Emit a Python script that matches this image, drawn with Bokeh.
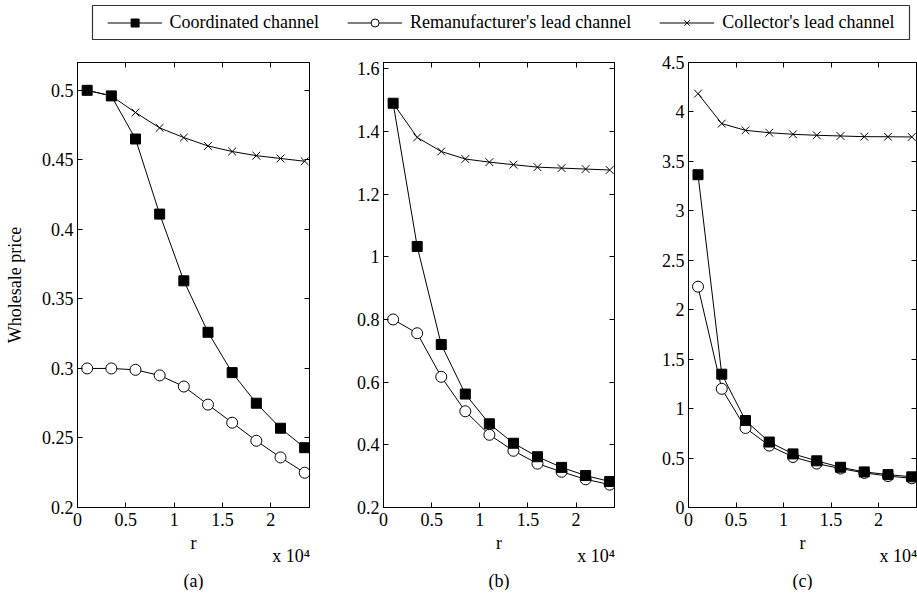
from bokeh.plotting import figure
from bokeh.models import (Range1d, FixedTicker, LinearAxis, CustomJSTickFormatter, NumeralTickFormatter,
                          Title, Legend, LegendItem, ColumnDataSource)
from bokeh.layouts import column, row
from bokeh.embed import file_html
from bokeh.resources import INLINE
from bokeh.themes import Theme

# ---------------- data ----------------
r_values = [0.1, 0.35, 0.6, 0.85, 1.1, 1.35, 1.6, 1.85, 2.1, 2.35]   # r in units of 10^4
x_ticks = [0, 0.5, 1, 1.5, 2]

a_coordinated = [0.500, 0.496, 0.465, 0.411, 0.363, 0.326, 0.297, 0.275, 0.257, 0.243]
a_reman = [0.300, 0.300, 0.299, 0.295, 0.287, 0.274, 0.261, 0.248, 0.236, 0.225]
a_collector = [0.500, 0.496, 0.484, 0.473, 0.466, 0.460, 0.456, 0.453, 0.451, 0.449]
a_yticks = [0.2, 0.25, 0.3, 0.35, 0.4, 0.45, 0.5]

b_coordinated = [1.490, 1.033, 0.720, 0.562, 0.467, 0.405, 0.362, 0.328, 0.302, 0.283]
b_reman = [0.800, 0.756, 0.617, 0.507, 0.432, 0.381, 0.340, 0.314, 0.290, 0.273]
b_collector = [1.490, 1.381, 1.336, 1.312, 1.302, 1.294, 1.286, 1.283, 1.280, 1.277]
b_yticks = [0.2, 0.4, 0.6, 0.8, 1.0, 1.2, 1.4, 1.6]

c_coordinated = [3.365, 1.348, 0.880, 0.662, 0.542, 0.472, 0.407, 0.360, 0.333, 0.310]
c_reman = [2.233, 1.200, 0.804, 0.626, 0.511, 0.444, 0.394, 0.350, 0.318, 0.295]
c_collector = [4.185, 3.882, 3.814, 3.790, 3.774, 3.764, 3.757, 3.750, 3.749, 3.747]
c_yticks = [0, 0.5, 1, 1.5, 2, 2.5, 3, 3.5, 4, 4.5]

series_names = ["Coordinated channel", "Remanufacturer's lead channel", "Collector's lead channel"]
multiplier_text = "x 10\u2074"

FONT = "Liberation Serif"
FS = "18px"
INK = "black"


def make_panel(ymin, ymax, yticks, coord, reman, coll, tag, bl, fw, br, ylabel=None):
    p = figure(frame_width=fw, frame_height=445,
               x_range=Range1d(0, 2.4), y_range=Range1d(ymin, ymax),
               min_border_left=bl, min_border_right=br, min_border_top=18, min_border_bottom=0,
               x_axis_location=None, y_axis_location=None,
               output_backend="svg", toolbar_location=None)
    p.grid.visible = False
    p.outline_line_color = INK
    p.outline_line_width = 1
    p.border_fill_color = "white"

    common = dict(major_tick_in=5, major_tick_out=0, minor_tick_in=0, minor_tick_out=0,
                  axis_line_color=INK, major_tick_line_color=INK,
                  major_label_text_font=FONT, major_label_text_font_size=FS,
                  major_label_text_font_style="normal", major_label_text_color=INK,
                  axis_label_text_font=FONT, axis_label_text_font_size=FS,
                  axis_label_text_font_style="normal", axis_label_text_color=INK)
    xa = LinearAxis(ticker=FixedTicker(ticks=x_ticks), formatter=NumeralTickFormatter(format="0.[00]"),
                    major_label_standoff=5, axis_label="r", axis_label_standoff=4, **common)
    p.add_layout(xa, "below")
    # multiplier "x 10^4" under the right end of the axis
    xm = LinearAxis(ticker=FixedTicker(ticks=[2.21]),
                    formatter=CustomJSTickFormatter(code="return '%s'" % multiplier_text),
                    major_tick_in=0, major_tick_out=0, minor_tick_in=0, minor_tick_out=0,
                    axis_line_color=None, major_tick_line_color=None,
                    major_label_text_font=FONT, major_label_text_font_size=FS,
                    major_label_text_font_style="normal",
                    major_label_text_color=INK, major_label_standoff=-10)
    p.add_layout(xm, "below")
    p.add_layout(Title(text=tag, align="center", text_font=FONT, text_font_size=FS,
                       text_font_style="normal", text_color=INK, standoff=0), "below")

    ya = LinearAxis(ticker=FixedTicker(ticks=yticks), formatter=NumeralTickFormatter(format="0.[00]"),
                    major_label_standoff=4, **common)
    if ylabel:
        ya.axis_label = ylabel
        ya.axis_label_standoff = 14
    p.add_layout(ya, "left")

    # mirrored inward ticks on the top and right edges
    for loc, ticks in (("above", x_ticks), ("right", yticks)):
        p.add_layout(LinearAxis(ticker=FixedTicker(ticks=ticks),
                                formatter=CustomJSTickFormatter(code="return ''"),
                                major_tick_in=5, major_tick_out=0, minor_tick_in=0, minor_tick_out=0,
                                major_label_standoff=0, major_label_text_font_size="1px",
                                axis_line_color=INK, major_tick_line_color=INK), loc)

    # series: collector, remanufacturer, coordinated (coordinated drawn on top)
    p.line(r_values, coll, line_color=INK, line_width=1)
    p.scatter(r_values, coll, marker="x", size=11, line_color=INK, line_width=1)
    p.line(r_values, reman, line_color=INK, line_width=1)
    p.scatter(r_values, reman, marker="circle", size=11, line_color=INK, fill_color="white", line_width=1)
    p.line(r_values, coord, line_color=INK, line_width=1)
    p.scatter(r_values, coord, marker="square", size=10, line_color=INK, fill_color=INK, line_width=1)
    return p


pa = make_panel(0.2, 0.52, a_yticks, a_coordinated, a_reman, a_collector, "(a)", 77, 232, 31,
                ylabel="Wholesale price")
pb = make_panel(0.2, 1.62, b_yticks, b_coordinated, b_reman, b_collector, "(b)", 43, 231, 30)
pc = make_panel(0.0, 4.5, c_yticks, c_coordinated, c_reman, c_collector, "(c)", 44, 228, 1)

# ---------------- legend strip ----------------
lf = figure(frame_width=817, frame_height=34, min_border_left=92, min_border_right=8,
            min_border_top=5, min_border_bottom=5, x_range=Range1d(0, 1), y_range=Range1d(0, 1),
            x_axis_location=None, y_axis_location=None, toolbar_location=None,
            output_backend="svg")
lf.grid.visible = False
lf.outline_line_color = "#333333"
lf.outline_line_width = 1.2
lf.border_fill_color = "white"

dummy = ColumnDataSource(data=dict(x=[float("nan")], y=[float("nan")]))
items = []
for name, mk, fill in zip(series_names, ["square", "circle", "x"], [INK, "white", None]):
    rl = lf.line("x", "y", source=dummy, line_color=INK, line_width=1)
    kw = dict(marker=mk, size=8, line_color=INK, line_width=1)
    if fill is not None:
        kw["fill_color"] = fill
    rm = lf.scatter("x", "y", source=dummy, **kw)
    items.append(LegendItem(label=name, renderers=[rl, rm]))

legend = Legend(items=items, orientation="horizontal", location="center",
                glyph_width=55, glyph_height=20, label_height=20, label_standoff=8, spacing=28,
                padding=0, margin=0, border_line_alpha=0, background_fill_alpha=0,
                label_text_font=FONT, label_text_font_size=FS, label_text_color=INK)
lf.add_layout(legend, "center")

layout = column(lf, row(pa, pb, pc))

theme = Theme(json={"attrs": {"Axis": {"major_label_text_font": FONT,
                                       "major_label_text_font_size": FS,
                                       "major_label_text_color": INK}}})

open("out.html", "w").write(file_html(layout, INLINE, theme=theme))
